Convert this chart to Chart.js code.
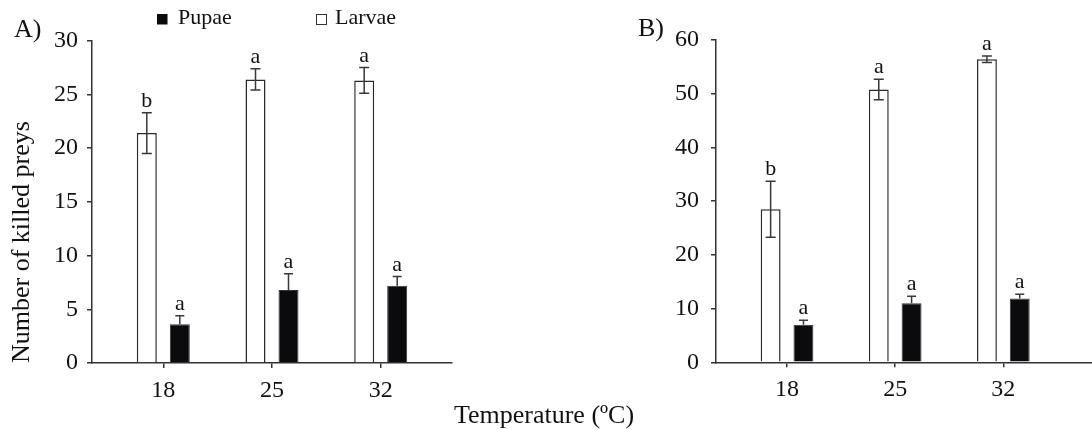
<!DOCTYPE html>
<html>
<head>
<meta charset="utf-8">
<script src="https://cdn.jsdelivr.net/npm/chart.js@4.4.1/dist/chart.umd.min.js"></script>
<style>
html, body { margin: 0; padding: 0; background: #fff; }
#wrap { position: relative; width: 1092px; height: 430px; overflow: hidden; }
#wrap canvas { position: absolute; left: 0; top: 0; }
</style>
</head>
<body>
<div id="wrap">
  <canvas id="chartA" width="1092" height="430"></canvas>
  <canvas id="chartB" width="1092" height="430"></canvas>
</div>
<script>
// temperatures (categories)
const temperatures = ['18', '25', '32'];

// panel A
const larvaeA = [21.4, 26.4, 26.3];
const larvaeErrA = [1.9, 1.0, 1.2];
const pupaeA = [3.6, 6.8, 7.2];
const pupaeErrA = [0.8, 1.5, 0.85];
const larvaeLettersA = ['b', 'a', 'a'];
const pupaeLettersA = ['a', 'a', 'a'];

// panel B
const larvaeB = [28.5, 50.8, 56.4];
const larvaeErrB = [5.2, 1.9, 0.6];
const pupaeB = [7.0, 11.0, 11.9];
const pupaeErrB = [0.85, 1.3, 0.75];
const larvaeLettersB = ['b', 'a', 'a'];
const pupaeLettersB = ['a', 'a', 'a'];

const serif = "'Liberation Serif', 'Times New Roman', serif";
Chart.defaults.font.family = serif;
Chart.defaults.color = '#111';

const larvaeColor = '#ffffff';
const pupaeColor = '#0b0b0e';

// error bars + significance letters on top of each bar
const errorBars = {
    id: 'errorBars',
    afterDatasetsDraw(chart) {
        const ctx = chart.ctx;
        const yScale = chart.scales.y;
        ctx.save();
        ctx.strokeStyle = '#383838';
        ctx.lineWidth = 1.5;
        ctx.fillStyle = '#111';
        ctx.textAlign = 'center';
        ctx.textBaseline = 'alphabetic';
        ctx.font = `22px ${serif}`;
        chart.data.datasets.forEach((ds, di) => {
            const meta = chart.getDatasetMeta(di);
            meta.data.forEach((bar, i) => {
                const v = ds.data[i].y;
                const e = ds.errors[i];
                const yTop = yScale.getPixelForValue(v + e);
                const yBot = ds.lowerBar ? yScale.getPixelForValue(v - e) : yScale.getPixelForValue(v);
                const half = ds.capWidth / 2;
                ctx.beginPath();
                ctx.moveTo(bar.x, yTop);
                ctx.lineTo(bar.x, yBot);
                ctx.moveTo(bar.x - half, yTop);
                ctx.lineTo(bar.x + half, yTop);
                if (ds.lowerBar) {
                    ctx.moveTo(bar.x - half, yBot);
                    ctx.lineTo(bar.x + half, yBot);
                }
                ctx.stroke();
                ctx.fillText(ds.letters[i], bar.x, yTop - 6);
            });
        });
        ctx.restore();
    }
};

// panel letter, shared legend and shared x title
const figureText = {
    id: 'figureText',
    afterDraw(chart, args, opts) {
        const ctx = chart.ctx;
        ctx.save();
        ctx.fillStyle = '#111';
        ctx.textBaseline = 'alphabetic';
        ctx.textAlign = 'left';
        ctx.font = `26px ${serif}`;
        ctx.fillText(opts.panel, opts.panelX, opts.panelY);

        if (opts.legend) {
            const ds = chart.data.datasets;
            ctx.font = `22px ${serif}`;
            // Pupae
            ctx.fillStyle = ds[1].backgroundColor;
            ctx.fillRect(157, 14, 10.5, 10.5);
            ctx.fillStyle = '#111';
            ctx.fillText(ds[1].label, 178, 24);
            // Larvae
            ctx.fillStyle = ds[0].backgroundColor;
            ctx.fillRect(316.5, 14.5, 10, 10);
            ctx.strokeStyle = '#333';
            ctx.lineWidth = 1;
            ctx.strokeRect(316.5, 14.5, 10, 10);
            ctx.fillStyle = '#111';
            ctx.fillText(ds[0].label, 335, 24);
        }

        if (opts.xTitle) {
            ctx.font = `26px ${serif}`;
            ctx.textAlign = 'center';
            ctx.fillText(opts.xTitle, 544, 423);
        }
        ctx.restore();
    }
};

function toPoints(values) {
    return values.map((v, i) => ({ x: i, y: v }));
}

function makePanel(id, cfg) {
    return new Chart(document.getElementById(id), {
        type: 'bar',
        data: {
            datasets: [
                {
                    label: 'Larvae',
                    data: toPoints(cfg.larvae),
                    errors: cfg.larvaeErr,
                    letters: cfg.larvaeLetters,
                    capWidth: 10,
                    lowerBar: true,
                    backgroundColor: larvaeColor,
                    borderColor: '#2a2a2a',
                    borderWidth: 1.5
                },
                {
                    label: 'Pupae',
                    data: toPoints(cfg.pupae),
                    errors: cfg.pupaeErr,
                    letters: cfg.pupaeLetters,
                    capWidth: 9,
                    lowerBar: false,
                    backgroundColor: pupaeColor,
                    borderColor: '#333',
                    borderWidth: 1
                }
            ]
        },
        options: {
            responsive: false,
            animation: false,
            layout: { padding: cfg.padding },
            datasets: { bar: { categoryPercentage: 0.607, barPercentage: 0.606 } },
            plugins: {
                legend: { display: false },
                tooltip: { enabled: false },
                figureText: cfg.text
            },
            scales: {
                x: {
                    type: 'linear',
                    min: cfg.xMin,
                    max: cfg.xMax,
                    offset: false,
                    afterBuildTicks: s => { s.ticks = temperatures.map((_, i) => ({ value: i })); },
                    afterFit: s => { s.height = cfg.xHeight; },
                    ticks: {
                        callback: v => temperatures[v],
                        font: { size: 24 },
                        padding: 8,
                        color: '#111'
                    },
                    grid: { drawOnChartArea: false, drawTicks: true, tickLength: 5, color: '#333', lineWidth: 1.5, offset: false },
                    border: { color: '#333', width: 1.5 }
                },
                y: {
                    min: 0,
                    max: cfg.yMax,
                    afterFit: s => { s.width = cfg.yWidth; },
                    ticks: { stepSize: cfg.yStep, font: { size: 24 }, padding: cfg.yPad, color: '#111' },
                    grid: { drawOnChartArea: false, drawTicks: true, tickLength: 5, color: '#333', lineWidth: 1.5 },
                    border: { color: '#333', width: 1.5 },
                    title: {
                        display: !!cfg.yTitle,
                        text: cfg.yTitle,
                        align: 'start',
                        font: { size: 26 },
                        color: '#111',
                        padding: { top: 7, bottom: 0 }
                    }
                }
            }
        },
        plugins: [errorBars, figureText]
    });
}

makePanel('chartA', {
    larvae: larvaeA, larvaeErr: larvaeErrA, larvaeLetters: larvaeLettersA,
    pupae: pupaeA, pupaeErr: pupaeErrA, pupaeLetters: pupaeLettersA,
    padding: { left: 0, right: 640, top: 40.7, bottom: 0 },
    xMin: -0.656, xMax: 2.656, xHeight: 67,
    yMax: 30, yStep: 5, yWidth: 92, yPad: 9,
    yTitle: 'Number of killed preys',
    text: { panel: 'A)', panelX: 14, panelY: 37, legend: true, xTitle: 'Temperature (ºC)' }
});

makePanel('chartB', {
    larvae: larvaeB, larvaeErr: larvaeErrB, larvaeLetters: larvaeLettersB,
    pupae: pupaeB, pupaeErr: pupaeErrB, pupaeLetters: pupaeLettersB,
    padding: { left: 600, right: 0, top: 40, bottom: 0 },
    xMin: -0.657, xMax: 2.82, xHeight: 67.7,
    yMax: 60, yStep: 10, yWidth: 116, yPad: 12,
    yTitle: '',
    text: { panel: 'B)', panelX: 638, panelY: 36, legend: false, xTitle: '' }
});
</script>
</body>
</html>
